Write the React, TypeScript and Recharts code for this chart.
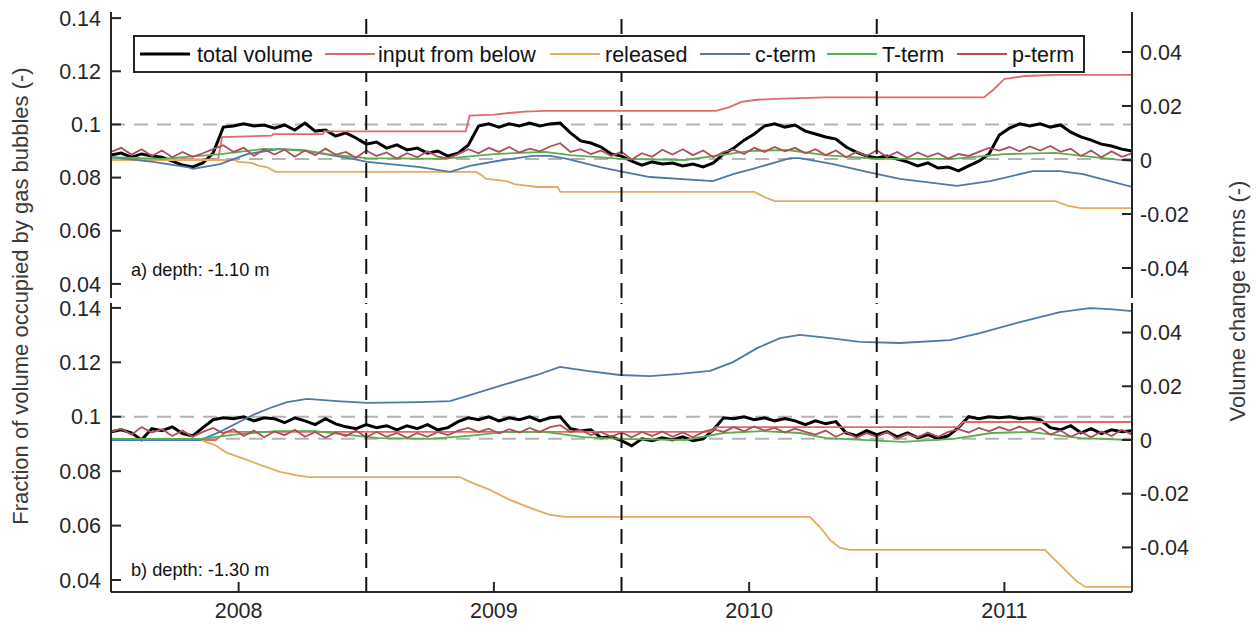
import React from 'react';
import { LineChart, Line, XAxis, YAxis, ReferenceLine, Legend } from 'recharts';

// ---------- axes / categories ----------
const X_DOMAIN: [number, number] = [2007.5, 2011.5];
const GRID_START = 2007.5;
const GRID_STEP = 0.04;
const yearTicks = [2008, 2009, 2010, 2011];
const hydroYearBreaks = [2008.5, 2009.5, 2010.5];
const leftTicks = [0.04, 0.06, 0.08, 0.1, 0.12, 0.14];
const rightTicks = [-0.04, -0.02, 0, 0.02, 0.04];

const topLeftDomain: [number, number] = [0.0347, 0.1423];
const topRightDomain: [number, number] = [-0.0511, 0.0548];
const botLeftDomain: [number, number] = [0.0356, 0.1418];
const botRightDomain: [number, number] = [-0.0566, 0.051];

const topRefLevels = [0.1, 0.087];
const botRefLevels = [0.1, 0.0919];

const seriesNames = ['total volume', 'input from below', 'released', 'c-term', 'T-term', 'p-term'];

// ---------- panel a) depth -1.10 m ----------
const totalTop = [
  0.0885, 0.0892, 0.0877, 0.0889, 0.0881, 0.0877, 0.0862, 0.0847, 0.0840, 0.0855,
  0.0892, 0.0990, 0.0994, 0.1002, 0.0994, 0.0998, 0.0986, 0.0998, 0.0979, 0.1005,
  0.0975, 0.0979, 0.0956, 0.0968, 0.0949, 0.0926, 0.0934, 0.0911, 0.0923, 0.0904,
  0.0911, 0.0892, 0.0900, 0.0881, 0.0892, 0.0923, 0.0994, 0.1002, 0.0990, 0.1002,
  0.0994, 0.1005, 0.0994, 0.1002, 0.1005, 0.0968, 0.0938, 0.0930, 0.0915, 0.0889,
  0.0881, 0.0862, 0.0847, 0.0859, 0.0851, 0.0855, 0.0844, 0.0851, 0.0840, 0.0855,
  0.0889, 0.0911, 0.0941, 0.0964, 0.0994, 0.1002, 0.0990, 0.0998, 0.0975, 0.0964,
  0.0953, 0.0945, 0.0915, 0.0896, 0.0881, 0.0874, 0.0881, 0.0870, 0.0859, 0.0844,
  0.0855, 0.0836, 0.0840, 0.0825, 0.0844, 0.0862, 0.0889, 0.0960, 0.0986, 0.1002,
  0.0994, 0.1002, 0.0990, 0.0998, 0.0971, 0.0953, 0.0941, 0.0926, 0.0919, 0.0907,
  0.0900,
];
const pTermTop = [
  0.0030, 0.0045, 0.0020, 0.0040, 0.0015, 0.0035, 0.0010, 0.0030, 0.0012, 0.0025,
  0.0040, 0.0055, 0.0030, 0.0045, 0.0015, 0.0040, 0.0020, 0.0038, 0.0012, 0.0035,
  0.0018, 0.0042, 0.0020, 0.0030, 0.0008, 0.0035, 0.0015, 0.0028, 0.0005, 0.0025,
  0.0010, 0.0032, 0.0012, 0.0006, 0.0022, 0.0040, 0.0025, 0.0045, 0.0030, 0.0048,
  0.0028, 0.0042, 0.0032, 0.0050, 0.0062, 0.0030, 0.0040, 0.0022, 0.0035, 0.0015,
  0.0030, 0.0002, 0.0025, 0.0012, 0.0038, 0.0020, 0.0040, 0.0018, 0.0035, 0.0010,
  0.0030, 0.0038, 0.0022, 0.0045, 0.0030, 0.0048, 0.0032, 0.0045, 0.0025, 0.0040,
  0.0018, 0.0035, 0.0010, 0.0030, 0.0015, 0.0036, 0.0012, 0.0030, 0.0008, 0.0028,
  0.0012, 0.0025, 0.0005, 0.0022, 0.0015, 0.0030, 0.0045, 0.0035, 0.0048, 0.0032,
  0.0050, 0.0035, 0.0052, 0.0030, 0.0042, 0.0015, 0.0035, 0.0010, 0.0032, 0.0012,
  0.0025,
];
const inputTop: [number, number][] = [
  [2007.5, 0], [2007.92, 0.0003], [2007.935, 0.0085], [2008.13, 0.009], [2008.135, 0.0096],
  [2008.33, 0.0096], [2008.335, 0.0106], [2008.89, 0.0106], [2008.905, 0.0164], [2009.0, 0.0168],
  [2009.06, 0.0174], [2009.12, 0.0179], [2009.2, 0.0182], [2009.87, 0.0182], [2009.92, 0.0195],
  [2009.97, 0.0215], [2010.03, 0.0223], [2010.1, 0.0226], [2010.3, 0.0232], [2010.92, 0.0232],
  [2010.96, 0.0263], [2011.0, 0.03], [2011.08, 0.0311], [2011.2, 0.0315], [2011.5, 0.0315],
];
const releasedTop: [number, number][] = [
  [2007.5, 0], [2007.98, 0], [2008.0, -0.0007], [2008.05, -0.0011], [2008.08, -0.0022],
  [2008.11, -0.0026], [2008.14, -0.0041], [2008.15, -0.0044], [2008.93, -0.0044], [2008.95, -0.0055],
  [2008.97, -0.007], [2009.05, -0.0078], [2009.08, -0.0089], [2009.17, -0.01], [2009.25, -0.01],
  [2009.26, -0.0118], [2010.02, -0.0118], [2010.06, -0.0137], [2010.1, -0.0152], [2011.2, -0.0152],
  [2011.25, -0.017], [2011.3, -0.0178], [2011.5, -0.0178],
];
const cTermTop: [number, number][] = [
  [2007.5, 0.0011], [2007.665, -0.0007], [2007.798, -0.0026], [2007.821, -0.0033], [2007.927, -0.0015],
  [2008.033, 0.0022], [2008.162, 0.0041], [2008.268, 0.0033], [2008.448, 0.0004], [2008.503, -0.0007],
  [2008.711, -0.0026], [2008.828, -0.0044], [2008.906, -0.0022], [2009.036, 0.0], [2009.153, 0.0015],
  [2009.22, 0.0015], [2009.287, 0.0004], [2009.416, -0.0026], [2009.506, -0.0044], [2009.612, -0.0063],
  [2009.858, -0.0078], [2009.937, -0.0052], [2010.015, -0.0033], [2010.16, 0.0007], [2010.199, 0.0007],
  [2010.329, -0.0015], [2010.462, -0.0044], [2010.591, -0.007], [2010.814, -0.0096], [2010.944, -0.0078],
  [2011.112, -0.0041], [2011.218, -0.0041], [2011.308, -0.0052], [2011.5, -0.01],
];
const tTermTop: [number, number][] = [
  [2007.5, 0.0011], [2007.7, 0.0004], [2007.93, 0.0022], [2008.1, 0.0041], [2008.25, 0.0037],
  [2008.35, 0.0022], [2008.5, 0.0007], [2008.8, 0.0004], [2009.0, 0.0022], [2009.2, 0.003],
  [2009.3, 0.0018], [2009.5, 0.0004], [2009.75, 0.0], [2010.0, 0.0033], [2010.15, 0.0037],
  [2010.3, 0.0018], [2010.5, 0.0004], [2010.8, 0.0004], [2011.0, 0.0022], [2011.2, 0.0026],
  [2011.35, 0.0011], [2011.5, -0.0004],
];

// ---------- panel b) depth -1.30 m ----------
const totalBot = [
  0.0945, 0.0952, 0.0941, 0.0915, 0.0956, 0.0949, 0.0963, 0.0938, 0.0930, 0.0960,
  0.0989, 0.0996, 0.0993, 0.1000, 0.0985, 0.0996, 0.0993, 0.0978, 0.0996, 0.0985,
  0.0971, 0.0993, 0.0974, 0.0963, 0.0956, 0.0971, 0.0960, 0.0967, 0.0952, 0.0967,
  0.0956, 0.0971, 0.0952, 0.0960, 0.0982, 0.0996, 0.0989, 0.1000, 0.0985, 0.0996,
  0.0989, 0.1000, 0.0985, 0.0996, 0.1000, 0.0956, 0.0949, 0.0952, 0.0923, 0.0926,
  0.0912, 0.0893, 0.0919, 0.0912, 0.0923, 0.0915, 0.0926, 0.0912, 0.0919, 0.0952,
  0.0996, 0.0993, 0.1000, 0.0989, 0.0996, 0.0985, 0.0993, 0.0985, 0.0971, 0.0985,
  0.0974, 0.0982, 0.0941, 0.0930, 0.0949, 0.0934, 0.0945, 0.0926, 0.0941, 0.0923,
  0.0934, 0.0919, 0.0930, 0.0960, 0.1000, 0.0993, 0.1000, 0.0996, 0.1000, 0.0993,
  0.0996, 0.0989, 0.0960, 0.0952, 0.0967, 0.0941, 0.0956, 0.0938, 0.0952, 0.0945,
  0.0949,
];
const pTermBot = [
  0.0030, 0.0042, 0.0020, 0.0048, 0.0028, 0.0040, 0.0015, 0.0035, 0.0012, 0.0030,
  0.0045, 0.0025, 0.0040, 0.0015, 0.0035, 0.0010, 0.0032, 0.0018, 0.0038, 0.0012,
  0.0030, 0.0008, 0.0028, 0.0015, 0.0035, 0.0010, 0.0030, 0.0012, 0.0026, 0.0008,
  0.0025, 0.0012, 0.0030, 0.0018, 0.0035, 0.0045, 0.0030, 0.0042, 0.0025, 0.0040,
  0.0028, 0.0045, 0.0030, 0.0048, 0.0055, 0.0030, 0.0038, 0.0018, 0.0030, 0.0012,
  0.0028, 0.0010, 0.0030, 0.0015, 0.0032, 0.0012, 0.0028, 0.0010, 0.0030, 0.0040,
  0.0030, 0.0048, 0.0032, 0.0050, 0.0035, 0.0045, 0.0028, 0.0042, 0.0030, 0.0020,
  0.0035, 0.0012, 0.0030, 0.0008, 0.0025, 0.0012, 0.0030, 0.0005, 0.0022, 0.0010,
  0.0028, 0.0012, 0.0030, 0.0040, 0.0028, 0.0045, 0.0032, 0.0048, 0.0035, 0.0050,
  0.0032, 0.0045, 0.0020, 0.0035, 0.0012, 0.0030, 0.0010, 0.0032, 0.0015, 0.0038,
  0.0020,
];
const inputBot: [number, number][] = [
  [2007.5, 0], [2007.91, 0], [2007.95, 0.003], [2009.85, 0.003], [2009.87, 0.0048],
  [2010.82, 0.0048], [2010.84, 0.0067], [2011.5, 0.0067],
];
const releasedBot: [number, number][] = [
  [2007.5, 0], [2007.849, 0], [2007.907, -0.0019], [2007.954, -0.0048], [2008.033, -0.0074],
  [2008.084, -0.0093], [2008.162, -0.0119], [2008.24, -0.0134], [2008.28, -0.0138], [2008.867, -0.0138],
  [2008.906, -0.0156], [2008.985, -0.0186], [2009.063, -0.0223], [2009.142, -0.0253], [2009.22, -0.0279],
  [2009.279, -0.0286], [2010.238, -0.0286], [2010.277, -0.0324], [2010.317, -0.0372], [2010.356, -0.0402],
  [2010.395, -0.0409], [2011.159, -0.0409], [2011.198, -0.0446], [2011.238, -0.0484], [2011.277, -0.0521],
  [2011.316, -0.0547], [2011.5, -0.0547],
];
const cTermBot: [number, number][] = [
  [2007.5, 0], [2007.849, 0], [2007.927, 0.003], [2007.994, 0.0063], [2008.056, 0.0093],
  [2008.123, 0.0119], [2008.19, 0.0141], [2008.268, 0.0153], [2008.385, 0.0145], [2008.503, 0.0138],
  [2008.711, 0.0141], [2008.828, 0.0145], [2008.906, 0.0167], [2009.036, 0.0205], [2009.169, 0.0242],
  [2009.259, 0.0272], [2009.365, 0.0257], [2009.494, 0.0242], [2009.612, 0.0238], [2009.729, 0.0246],
  [2009.847, 0.0257], [2009.937, 0.029], [2010.031, 0.0342], [2010.121, 0.0379], [2010.199, 0.0391],
  [2010.317, 0.0379], [2010.434, 0.0365], [2010.591, 0.0361], [2010.787, 0.0372], [2010.904, 0.0398],
  [2011.061, 0.0439], [2011.218, 0.0476], [2011.335, 0.0491], [2011.414, 0.0487], [2011.5, 0.048],
];
const tTermBot: [number, number][] = [
  [2007.5, 0.0004], [2007.85, 0.0004], [2008.0, 0.0022], [2008.15, 0.0033], [2008.3, 0.0033],
  [2008.4, 0.0022], [2008.55, 0.0007], [2008.75, 0.0004], [2008.9, 0.0015], [2009.05, 0.003],
  [2009.2, 0.003], [2009.35, 0.0011], [2009.5, 0.0004], [2009.75, 0], [2009.9, 0.0026],
  [2010.05, 0.0033], [2010.2, 0.0026], [2010.3, 0.0007], [2010.6, -0.0007], [2010.8, 0.0004],
  [2010.95, 0.0026], [2011.1, 0.003], [2011.3, 0.0007], [2011.5, 0],
];

// ---------- styling ----------
const COLORS = ['#000000', '#e06a6a', '#e5aa5e', '#4d79a6', '#55b150', '#b04f5a'];
const WIDTHS = [3, 1.8, 1.8, 1.8, 1.8, 1.8];
const AXIS_COLOR = '#262626';
const FONT = '"Liberation Sans", Arial, Helvetica, sans-serif';
const TICK_FONT = 21.5;
const TICK_LEN = 10;

type Pt = { t: number; v: number };
const fromGrid = (vals: number[]): Pt[] =>
  vals.map((v, i) => ({ t: Math.round((GRID_START + i * GRID_STEP) * 1000) / 1000, v }));
const fromPairs = (pairs: [number, number][]): Pt[] => pairs.map(([t, v]) => ({ t, v }));

type Series = { name: string; color: string; width: number; axis: 'l' | 'r'; data: Pt[] };
const buildSeries = (
  total: number[], input: [number, number][], released: [number, number][],
  cTerm: [number, number][], tTerm: [number, number][], pTerm: number[],
): Series[] => [
  { name: seriesNames[0], color: COLORS[0], width: WIDTHS[0], axis: 'l', data: fromGrid(total) },
  { name: seriesNames[1], color: COLORS[1], width: WIDTHS[1], axis: 'r', data: fromPairs(input) },
  { name: seriesNames[2], color: COLORS[2], width: WIDTHS[2], axis: 'r', data: fromPairs(released) },
  { name: seriesNames[3], color: COLORS[3], width: WIDTHS[3], axis: 'r', data: fromPairs(cTerm) },
  { name: seriesNames[4], color: COLORS[4], width: WIDTHS[4], axis: 'r', data: fromPairs(tTerm) },
  { name: seriesNames[5], color: COLORS[5], width: WIDTHS[5], axis: 'r', data: fromGrid(pTerm) },
];

const topSeries = buildSeries(totalTop, inputTop, releasedTop, cTermTop, tTermTop, pTermTop);
const botSeries = buildSeries(totalBot, inputBot, releasedBot, cTermBot, tTermBot, pTermBot);

const fmt = (v: number) => String(Math.round(v * 1000) / 1000);

// ---------- custom inward ticks ----------
const LeftTick = (p: any) => (
  <g>
    <line x1={p.x} x2={p.x + TICK_LEN} y1={p.y} y2={p.y} stroke={AXIS_COLOR} strokeWidth={2} />
    <text x={p.x - 10} y={p.y} dy="0.36em" textAnchor="end" fontSize={TICK_FONT} fill={AXIS_COLOR} fontFamily={FONT}>
      {fmt(p.payload.value)}
    </text>
  </g>
);
const RightTick = (p: any) => (
  <g>
    <line x1={p.x - TICK_LEN} x2={p.x} y1={p.y} y2={p.y} stroke={AXIS_COLOR} strokeWidth={2} />
    <text x={p.x + 8} y={p.y} dy="0.36em" textAnchor="start" fontSize={TICK_FONT} fill={AXIS_COLOR} fontFamily={FONT}>
      {fmt(p.payload.value)}
    </text>
  </g>
);
const BottomTick = (p: any) => (
  <g>
    <line x1={p.x} x2={p.x} y1={p.y} y2={p.y - TICK_LEN} stroke={AXIS_COLOR} strokeWidth={2} />
    {p.showLabel ? (
      <text x={p.x} y={p.y + 26} textAnchor="middle" fontSize={TICK_FONT} fill={AXIS_COLOR} fontFamily={FONT}>
        {p.payload.value}
      </text>
    ) : null}
  </g>
);
const TopTick = (p: any) => (
  <g>
    <line x1={p.x} x2={p.x} y1={p.y} y2={p.y + TICK_LEN} stroke={AXIS_COLOR} strokeWidth={2} />
  </g>
);

// legend item placement (relative to legend box)
const legendLineX = [7, 192, 417, 567, 694, 824];
const legendTextX = [64, 245, 472, 622, 749, 879];

const renderLegend = () => (
  <svg width={952} height={38} style={{ display: 'block' }}>
    <rect x={1} y={1} width={950} height={36} fill="#ffffff" stroke={AXIS_COLOR} strokeWidth={2} />
    {topSeries.map((s, i) => (
      <g key={s.name}>
        <line x1={legendLineX[i]} x2={legendLineX[i] + 50} y1={19} y2={19} stroke={s.color} strokeWidth={s.width} />
        <text x={legendTextX[i]} y={26.5} fontSize={TICK_FONT} fill="#111" fontFamily={FONT}>
          {s.name}
        </text>
      </g>
    ))}
  </svg>
);

type PanelProps = {
  height: number; marginTop: number; marginBottom: number; showXLabels: boolean;
  leftDomain: [number, number]; rightDomain: [number, number];
  series: Series[]; refLevels: number[]; withLegend: boolean;
};

function Panel(props: PanelProps) {
  const { height, marginTop, marginBottom, showXLabels, leftDomain, rightDomain, series, refLevels, withLegend } = props;
  const axisLine = { stroke: AXIS_COLOR, strokeWidth: 2 };
  return (
    <LineChart width={1258} height={height} margin={{ top: marginTop, right: 0, bottom: marginBottom, left: 0 }}>
      <XAxis
        xAxisId="b" dataKey="t" type="number" domain={X_DOMAIN} allowDataOverflow ticks={yearTicks}
        interval={0} tickSize={0} tickMargin={0} height={showXLabels ? 40 : 0} axisLine={axisLine}
        tickLine={false} tick={<BottomTick showLabel={showXLabels} />}
      />
      <XAxis
        xAxisId="t" orientation="top" dataKey="t" type="number" domain={X_DOMAIN} allowDataOverflow
        ticks={yearTicks} interval={0} tickSize={0} tickMargin={0} height={0} axisLine={axisLine}
        tickLine={false} tick={<TopTick />}
      />
      <YAxis
        yAxisId="l" orientation="left" type="number" width={111} domain={leftDomain} allowDataOverflow
        ticks={leftTicks} interval={0} tickSize={0} tickMargin={0} axisLine={axisLine} tickLine={false}
        tick={<LeftTick />}
      />
      <YAxis
        yAxisId="r" orientation="right" type="number" width={126} domain={rightDomain} allowDataOverflow
        ticks={rightTicks} interval={0} tickSize={0} tickMargin={0} axisLine={axisLine} tickLine={false}
        tick={<RightTick />}
      />
      {refLevels.map((v) => (
        <ReferenceLine key={'h' + v} xAxisId="b" yAxisId="l" y={v} stroke="#b4b4b4" strokeWidth={2} strokeDasharray="14 9" />
      ))}
      {series.map((s) => (
        <Line
          key={s.name} xAxisId="b" yAxisId={s.axis} data={s.data} dataKey="v" name={s.name} type="linear"
          stroke={s.color} strokeWidth={s.width} dot={false} activeDot={false} isAnimationActive={false}
        />
      ))}
      {hydroYearBreaks.map((x) => (
        <ReferenceLine key={'v' + x} xAxisId="b" yAxisId="l" x={x} stroke="#111" strokeWidth={2} strokeDasharray="15 9" />
      ))}
      {withLegend ? (
        <Legend
          layout="horizontal" verticalAlign="middle" align="center" content={renderLegend}
          wrapperStyle={{ position: 'absolute', left: 133, top: 35, width: 952, height: 38 }}
        />
      ) : null}
    </LineChart>
  );
}

export default function App() {
  return (
    <div style={{ position: 'absolute', left: 0, top: 0, width: 1258, height: 633, background: '#fff', fontFamily: FONT }}>
      <div style={{ position: 'absolute', left: 0, top: 0 }}>
        <Panel height={300} marginTop={12} marginBottom={2} showXLabels={false} leftDomain={topLeftDomain}
          rightDomain={topRightDomain} series={topSeries} refLevels={topRefLevels} withLegend />
      </div>
      <div style={{ position: 'absolute', left: 0, top: 280 }}>
        <Panel height={353} marginTop={23} marginBottom={1} showXLabels leftDomain={botLeftDomain}
          rightDomain={botRightDomain} series={botSeries} refLevels={botRefLevels} withLegend={false} />
      </div>
      <svg width={1258} height={633} style={{ position: 'absolute', left: 0, top: 0, pointerEvents: 'none' }}>
        <text transform="translate(20,296) rotate(-90)" textAnchor="middle" dominantBaseline="central"
          fontSize={22} fill="#3a3a3a" fontFamily={FONT}>
          Fraction of volume occupied by gas bubbles (-)
        </text>
        <text transform="translate(1237,301) rotate(-90)" textAnchor="middle" dominantBaseline="central"
          fontSize={22} fill="#3a3a3a" fontFamily={FONT}>
          Volume change terms (-)
        </text>
        <text x={131} y={276} fontSize={18.2} fill="#111" fontFamily={FONT}>a) depth: -1.10 m</text>
        <text x={131} y={576} fontSize={18.2} fill="#111" fontFamily={FONT}>b) depth: -1.30 m</text>
      </svg>
    </div>
  );
}
